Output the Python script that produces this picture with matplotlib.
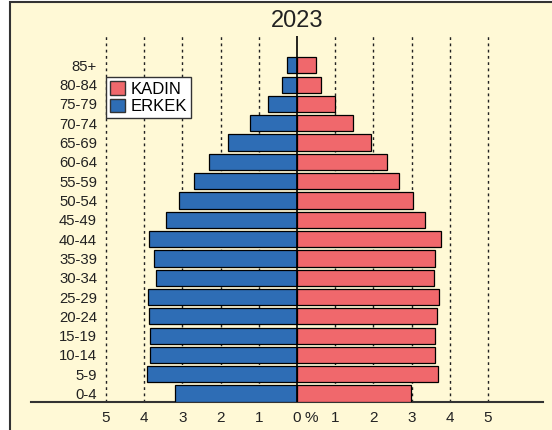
import matplotlib.pyplot as plt
from matplotlib.patches import Rectangle, Patch

plt.rcParams['font.family'] = ['Liberation Sans', 'DejaVu Sans']

yas_gruplari = ['0-4', '5-9', '10-14', '15-19', '20-24', '25-29', '30-34', '35-39',
                '40-44', '45-49', '50-54', '55-59', '60-64', '65-69', '70-74',
                '75-79', '80-84', '85+']
erkek = [3.18, 3.93, 3.84, 3.84, 3.87, 3.91, 3.69, 3.74,
         3.87, 3.42, 3.09, 2.70, 2.30, 1.81, 1.23, 0.75, 0.38, 0.25]
kadin = [2.99, 3.70, 3.61, 3.61, 3.67, 3.72, 3.59, 3.62,
         3.78, 3.36, 3.05, 2.68, 2.37, 1.94, 1.47, 1.00, 0.64, 0.50]
x_ticks = [-5, -4, -3, -2, -1, 0, 1, 2, 3, 4, 5]

W, H = 552, 430
bg = '#FFF9D6'
kirmizi = '#F0686C'
mavi = '#2E6DB5'

fig = plt.figure(figsize=(W / 100, H / 100), dpi=100, facecolor='white')
fig.patches.append(Rectangle((10 / W, -0.1), 1.1, 1.1 - 2 / H, transform=fig.transFigure,
                             facecolor=bg, edgecolor='#333333', linewidth=1.5, zorder=-5))

ax = fig.add_axes([31 / W, (H - 401.7) / H, 512 / W, (401.7 - 36) / H])
ax.set_facecolor('none')

y = list(range(len(yas_gruplari)))
ax.barh(y, [-v for v in erkek], height=0.84, color=mavi, edgecolor='black', linewidth=0.9, zorder=3)
ax.barh(y, kadin, height=0.84, color=kirmizi, edgecolor='black', linewidth=0.9, zorder=3)

ax.set_xlim(-6.96, 6.44)
ax.set_ylim(-0.42, 18.52)

for t in x_ticks:
    if t == 0:
        ax.axvline(0, color='black', linewidth=1.2, zorder=4)
    else:
        ax.axvline(t, color='#222222', linewidth=1, linestyle=(0, (2, 2.5)), zorder=1)

ax.set_xticks(x_ticks)
ax.set_xticklabels([str(abs(t)) for t in x_ticks], fontsize=11, color='#222222')
ax.annotate('%', xy=(0.37, 0), xycoords=('data', 'axes fraction'), xytext=(0, -7),
            textcoords='offset points', ha='center', va='top', fontsize=11, color='#222222')
ax.tick_params(axis='x', length=0, pad=7)

ax.set_yticks(y)
ax.set_yticklabels(yas_gruplari, fontsize=10.7, color='#222222')
ax.tick_params(axis='y', length=0, pad=-47.5)

for s in ['left', 'right', 'top']:
    ax.spines[s].set_visible(False)
ax.spines['bottom'].set_color('#333333')
ax.spines['bottom'].set_linewidth(1.5)

fig.text(297 / W, 1 - 21 / H, '2023', ha='center', va='center', fontsize=17, color='#222222')

handles = [Patch(facecolor=kirmizi, edgecolor='#333333', label='KADIN'),
           Patch(facecolor=mavi, edgecolor='#333333', label='ERKEK')]
leg = ax.legend(handles=handles, loc='upper left', bbox_to_anchor=(106 / W, 1 - 77 / H),
                bbox_transform=fig.transFigure, fontsize=12, frameon=True, fancybox=False,
                framealpha=1, edgecolor='#333333', handlelength=0.9, handleheight=0.9,
                handletextpad=0.3, labelspacing=0.1, borderpad=0.25, borderaxespad=0)
leg.get_frame().set_linewidth(1)
leg.set_zorder(5)

fig.savefig('out.png', dpi=100, facecolor=fig.get_facecolor())
